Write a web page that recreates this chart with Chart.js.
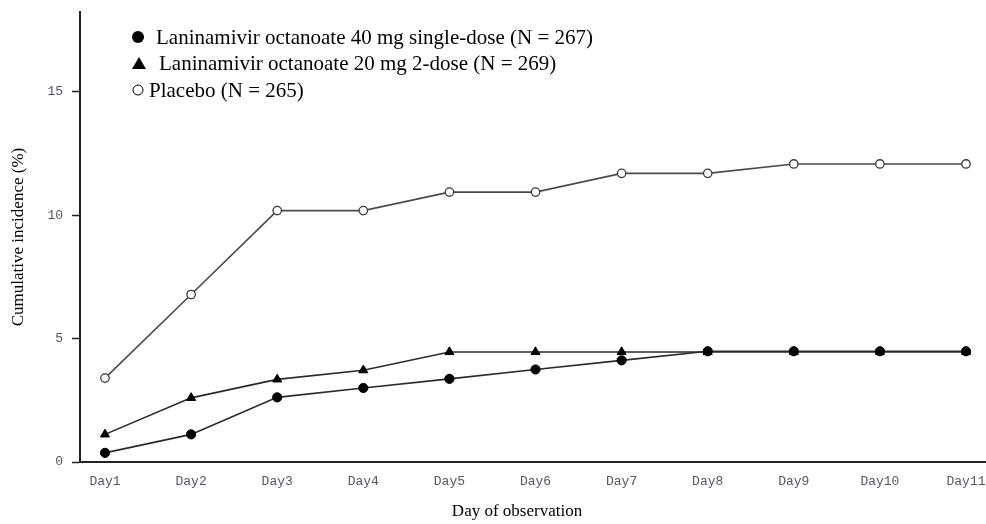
<!DOCTYPE html>
<html>
<head>
<meta charset="utf-8">
<script src="https://cdn.jsdelivr.net/npm/chart.js@4.4.1/dist/chart.umd.min.js"></script>
<style>
  html, body { margin: 0; padding: 0; background: #ffffff; }
  #wrap { position: relative; width: 986px; height: 524px; }
</style>
</head>
<body>
<div id="wrap"><canvas id="c" width="986" height="524"></canvas></div>
<script>
const dayLabels = ['Day1','Day2','Day3','Day4','Day5','Day6','Day7','Day8','Day9','Day10','Day11'];
const seriesNames = [
  'Laninamivir octanoate 40 mg single-dose (N = 267)',
  'Laninamivir octanoate 20 mg 2-dose (N = 269)',
  'Placebo (N = 265)'
];
const lani40 = [0.37, 1.12, 2.62, 3.00, 3.37, 3.75, 4.12, 4.49, 4.49, 4.49, 4.49];
const lani20 = [1.12, 2.60, 3.35, 3.72, 4.46, 4.46, 4.46, 4.46, 4.46, 4.46, 4.46];
const placebo = [3.40, 6.79, 10.19, 10.19, 10.94, 10.94, 11.70, 11.70, 12.08, 12.08, 12.08];
const yTicks = [0, 5, 10, 15];
const yTitle = 'Cumulative incidence (%)';
const xTitle = 'Day of observation';

const toPts = arr => arr.map((v, i) => ({ x: i + 1, y: v }));

const legendPlugin = {
  id: 'insideLegend',
  afterDraw(chart) {
    const ctx = chart.ctx;
    const items = [
      { style: 'dot', y: 37 },
      { style: 'tri', y: 63 },
      { style: 'ring', y: 90 }
    ];
    ctx.save();
    ctx.font = '21px "Liberation Serif", "Times New Roman", serif';
    ctx.textBaseline = 'middle';
    ctx.textAlign = 'left';
    items.forEach((it, k) => {
      const label = chart.data.datasets[k].label;
      ctx.fillStyle = '#000';
      ctx.strokeStyle = '#000';
      if (it.style === 'dot') {
        ctx.beginPath(); ctx.arc(138, it.y, 6, 0, Math.PI * 2); ctx.fill();
        ctx.fillText(label, 156, it.y + 1);
      } else if (it.style === 'tri') {
        ctx.beginPath(); ctx.moveTo(139, it.y - 6); ctx.lineTo(146, it.y + 6); ctx.lineTo(132, it.y + 6); ctx.closePath(); ctx.fill();
        ctx.fillText(label, 159, it.y + 1);
      } else {
        ctx.lineWidth = 1;
        ctx.beginPath(); ctx.arc(138, it.y, 5, 0, Math.PI * 2); ctx.stroke();
        ctx.fillText(label, 149, it.y + 1);
      }
    });
    // x-axis title
    ctx.font = '17px "Liberation Serif", "Times New Roman", serif';
    ctx.textAlign = 'center';
    ctx.fillStyle = '#000';
    ctx.fillText(xTitle, 517, 512);
    ctx.restore();
  }
};

new Chart(document.getElementById('c'), {
  type: 'line',
  data: {
    datasets: [
      {
        label: seriesNames[0], data: toPts(lani40),
        borderColor: '#2a2a2a', borderWidth: 1.6, backgroundColor: '#000',
        pointStyle: 'circle', pointRadius: 4.6, pointBackgroundColor: '#000', pointBorderColor: '#000', pointBorderWidth: 1,
        tension: 0, order: 1
      },
      {
        label: seriesNames[1], data: toPts(lani20),
        borderColor: '#2a2a2a', borderWidth: 1.6, backgroundColor: '#000',
        pointStyle: 'triangle', pointRadius: 5.2, pointBackgroundColor: '#000', pointBorderColor: '#000', pointBorderWidth: 1,
        tension: 0, order: 2
      },
      {
        label: seriesNames[2], data: toPts(placebo),
        borderColor: '#4a4a4a', borderWidth: 1.6, backgroundColor: '#fff',
        pointStyle: 'circle', pointRadius: 4.2, pointBackgroundColor: '#fff', pointBorderColor: '#3a3a3a', pointBorderWidth: 1.3,
        tension: 0, order: 3
      }
    ]
  },
  options: {
    responsive: false,
    animation: false,
    devicePixelRatio: 1,
    layout: { autoPadding: false, padding: { top: 12, right: 0, left: 0, bottom: 0 } },
    plugins: { legend: { display: false }, tooltip: { enabled: false } },
    scales: {
      x: {
        type: 'linear',
        min: 0.7096,
        max: 11.232,
        afterFit(s) { s.height = 62; s.paddingLeft = 0; s.paddingRight = 0; },
        afterBuildTicks(s) { s.ticks = dayLabels.map((_, i) => ({ value: i + 1 })); },
        ticks: {
          includeBounds: false,
          stepSize: 1,
          autoSkip: false,
          maxRotation: 0,
          padding: 12,
          color: '#555566',
          font: { family: '"Liberation Mono", "DejaVu Sans Mono", monospace', size: 13 },
          callback: (v) => dayLabels[v - 1]
        },
        grid: { display: true, drawOnChartArea: false, drawTicks: false, color: '#222' },
        border: { display: true, color: '#222', width: 2 },
        title: { display: false }
      },
      y: {
        type: 'linear',
        min: 0,
        max: 18.24,
        afterFit(s) { s.width = 80; s.paddingTop = 0; s.paddingBottom = 0; },
        afterBuildTicks(s) { s.ticks = yTicks.map(v => ({ value: v })); },
        ticks: {
          includeBounds: false,
          stepSize: 5,
          padding: 9,
          color: '#555566',
          font: { family: '"Liberation Mono", "DejaVu Sans Mono", monospace', size: 13 }
        },
        grid: { display: true, drawOnChartArea: false, drawTicks: true, tickLength: 8, color: '#222', tickWidth: 1.5 },
        border: { display: true, color: '#222', width: 2 },
        title: {
          display: true, text: yTitle, color: '#000',
          font: { family: '"Liberation Serif", "Times New Roman", serif', size: 17 },
          padding: { top: 8, bottom: 0 }
        }
      }
    }
  },
  plugins: [legendPlugin]
});
</script>
</body>
</html>
